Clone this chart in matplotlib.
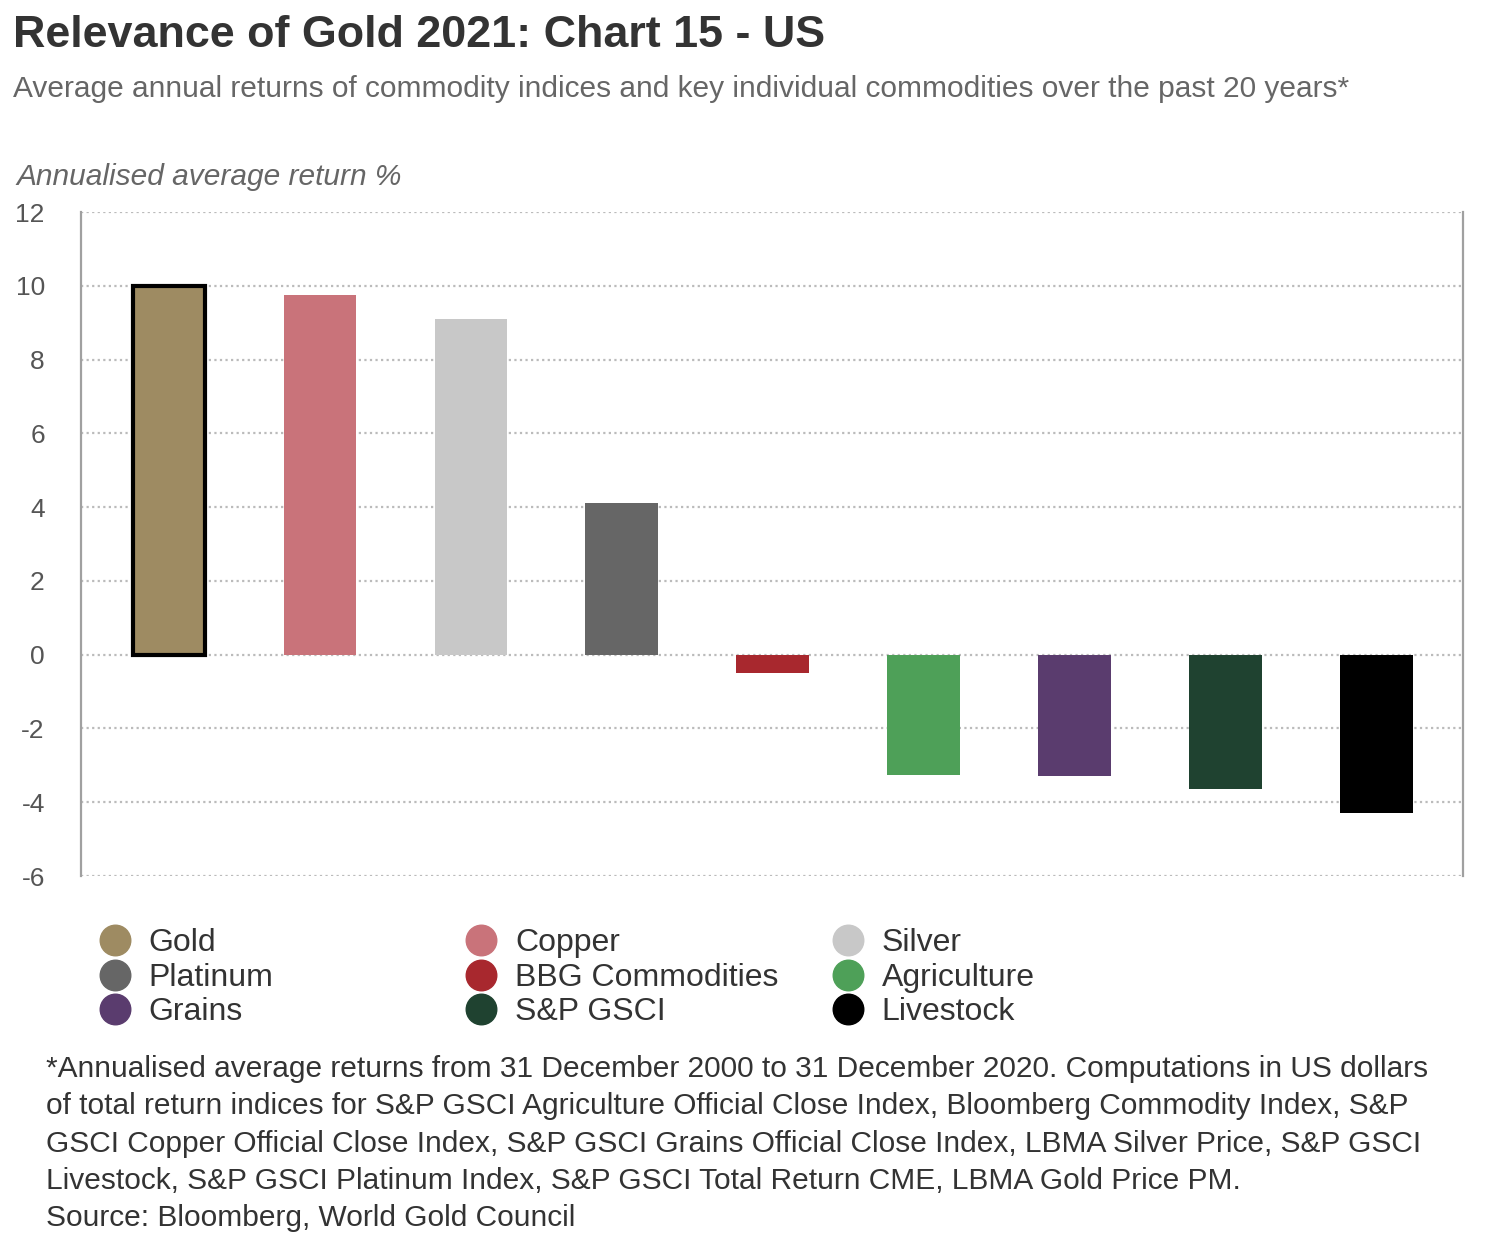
import matplotlib
matplotlib.use("Agg")
import matplotlib.pyplot as plt
from matplotlib.lines import Line2D

plt.rcParams['font.family'] = ['Liberation Sans', 'DejaVu Sans']
plt.rcParams['axes.unicode_minus'] = False

categories = ['Gold', 'Copper', 'Silver', 'Platinum', 'BBG Commodities',
              'Agriculture', 'Grains', 'S&P GSCI', 'Livestock']
returns = [10.0, 9.75, 9.1, 4.1, -0.5, -3.25, -3.3, -3.65, -4.3]
colors = ['#9E8B62', '#C9737A', '#C8C8C8', '#666666', '#A8282E',
          '#4EA058', '#5A3C6E', '#1F4230', '#000000']
yticks = [-6, -4, -2, 0, 2, 4, 6, 8, 10, 12]

title = 'Relevance of Gold 2021: Chart 15 - US'
subtitle = ('Average annual returns of commodity indices and key individual '
            'commodities over the past 20 years*')
ylabel = 'Annualised average return %'
footnote = ('*Annualised average returns from 31 December 2000 to 31 December 2020. Computations in US dollars\n'
            'of total return indices for S&P GSCI Agriculture Official Close Index, Bloomberg Commodity Index, S&P\n'
            'GSCI Copper Official Close Index, S&P GSCI Grains Official Close Index, LBMA Silver Price, S&P GSCI\n'
            'Livestock, S&P GSCI Platinum Index, S&P GSCI Total Return CME, LBMA Gold Price PM.\n'
            'Source: Bloomberg, World Gold Council')

fig = plt.figure(figsize=(14.96, 12.54), dpi=100)
ax = fig.add_axes([0.0541, 0.3014, 0.9239, 0.5295])

x = list(range(len(categories)))
bars = ax.bar(x, returns, width=0.48, color=colors, zorder=3)
bars[0].set_edgecolor('black')
bars[0].set_linewidth(3)

ax.set_xlim(-0.583, 8.575)
ax.set_ylim(-6, 12)
ax.set_yticks(yticks)
ax.set_xticks([])
ax.tick_params(axis='y', length=0, pad=26, labelsize=19, labelcolor='#555555')
ax.yaxis.grid(True, linestyle=(0, (1, 1.5)), color='#BBBBBB', linewidth=1.6, zorder=0)
ax.set_axisbelow(True)
for s in ['top', 'bottom']:
    ax.spines[s].set_visible(False)
for s in ['left', 'right']:
    ax.spines[s].set_color('#A0A0A0')
    ax.spines[s].set_linewidth(1.6)

fig.text(0.009, 0.972, title, fontsize=32.3, fontweight='bold', color='#333333', va='center')
fig.text(0.009, 0.929, subtitle, fontsize=21.5, color='#666666', va='center')
fig.text(0.011, 0.859, ylabel, fontsize=21.5, style='italic', color='#666666', va='center')

# legend: three columns, each a separate legend so the columns sit at equal spacing
col_x = [0.066, 0.311, 0.556]
for c in range(3):
    idx = [c, c + 3, c + 6]
    handles = [Line2D([], [], marker='o', linestyle='', markersize=22,
                      markerfacecolor=colors[i], markeredgecolor=colors[i]) for i in idx]
    labels = [categories[i] for i in idx]
    fig.legend(handles, labels, loc='upper left', bbox_to_anchor=(col_x[c], 0.2596),
               frameon=False, fontsize=23, labelcolor='#333333', handletextpad=0.56,
               labelspacing=0.14, handlelength=1.0, borderaxespad=0, borderpad=0)

fig.text(0.031, 0.159, footnote, fontsize=21.5, color='#333333', va='top',
         linespacing=1.43)

fig.savefig('out.png', dpi=100, facecolor='white')
